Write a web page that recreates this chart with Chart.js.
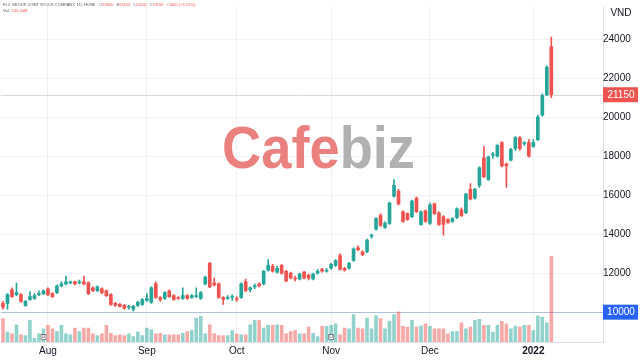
<!DOCTYPE html>
<html>
<head>
<meta charset="utf-8">
<script src="https://cdn.jsdelivr.net/npm/chart.js@4.4.1/dist/chart.umd.min.js"></script>
<style>
  html, body { margin: 0; padding: 0; background: #fff; }
  canvas { display: block; }
</style>
</head>
<body>
<canvas id="chart" width="640" height="361"></canvas>
<script>
// daily candles, FLC (HOSE), late Jul 2021 -> early Jan 2022
const open = [
  10450, 10450, 11150, 10900, 10900, 10350, 10650, 10700, 10900, 10950,
  11200, 10950, 11000, 11350, 11450, 11500, 11550, 11500, 11550, 11500,
  11250, 11100, 11200, 11100, 10900, 10450, 10400, 10350, 10250, 10150,
  10350, 10400, 10600, 10500, 11450, 10750, 10700, 11100, 10850, 10750,
  10700, 10850, 10750, 10800, 10700, 11450, 12500, 11500, 11450, 10750,
  10700, 10750, 10700, 10750, 11550, 11150, 11300, 11450, 11450, 12150,
  12350, 12050, 12400, 12100, 12000, 11750, 11700, 12050, 11900, 11700,
  12000, 12200, 12100, 12250, 12400, 12900, 12250, 12250, 12650, 13300,
  13100, 13100, 13900, 14250, 14950, 14350, 14550, 15950, 16200, 15150,
  15050, 14900, 15850, 14500, 15200, 14550, 15550, 15100, 14900, 14750,
  14650, 14850, 15250, 15100, 16300, 15850, 16500, 17900, 16800, 18050,
  18000, 18700, 17600, 17800, 18400, 18950, 18650, 18700, 18500, 18850,
  20100, 21150, 23600
];
const close = [
  10250, 10900, 10800, 11000, 10550, 10550, 10800, 10850, 10950, 11100,
  10900, 10800, 11350, 11450, 11550, 11550, 11450, 11550, 11450, 10950,
  11100, 11300, 11000, 10850, 10400, 10350, 10300, 10200, 10300, 10300,
  10500, 10650, 10700, 11250, 10750, 10650, 11000, 10800, 10650, 10700,
  10850, 10700, 10850, 10850, 11000, 11800, 11300, 11400, 10750, 10650,
  10750, 10800, 10650, 11450, 11100, 11250, 11350, 11350, 12100, 12400,
  12100, 12250, 12000, 11600, 11750, 11700, 11950, 11750, 11750, 11950,
  12100, 12100, 12150, 12450, 12650, 12200, 12150, 12500, 13250, 13200,
  12950, 13700, 13950, 14800, 14450, 14550, 15600, 16500, 15550, 14650,
  14750, 15700, 15150, 15150, 14650, 15500, 15050, 14500, 14500, 14600,
  14800, 15300, 14950, 16050, 15800, 16300, 17400, 16950, 17950, 18100,
  18550, 17500, 17500, 18350, 18950, 18400, 18700, 18000, 18700, 20000,
  21100, 22550, 21150
];
const high = [
  10550, 10950, 11250, 11500, 10950, 10600, 11050, 10950, 11100, 11150,
  11250, 11000, 11400, 11550, 11850, 11600, 11600, 11650, 11850, 11550,
  11300, 11350, 11250, 11150, 10950, 10500, 10450, 10400, 10350, 10350,
  10550, 10700, 10950, 11300, 11550, 10800, 11050, 11150, 10900, 10800,
  11250, 10900, 10900, 11250, 11050, 11850, 12550, 11750, 11500, 10800,
  10850, 10900, 10800, 11500, 11700, 11300, 11450, 11500, 12150, 12700,
  12450, 12350, 12450, 12150, 12050, 11850, 12000, 12100, 11950, 12000,
  12200, 12250, 12250, 12500, 12700, 13000, 12300, 12550, 13300, 13400,
  13150, 13750, 14000, 14850, 15050, 14650, 15650, 16800, 16300, 15200,
  15100, 15750, 15900, 15200, 15250, 15600, 15600, 15150, 14950, 14800,
  14850, 15350, 15350, 16100, 16600, 16350, 17450, 18500, 18000, 18200,
  18600, 18750, 17650, 18400, 19000, 19000, 18750, 18850, 18850, 20100,
  21200, 22650, 24100
];
const low = [
  10150, 10150, 10750, 10850, 10500, 10300, 10600, 10650, 10850, 10900,
  10850, 10750, 10950, 11300, 11400, 11450, 11400, 11450, 11400, 10900,
  11050, 11050, 10950, 10800, 10350, 10300, 10250, 10150, 10150, 10050,
  10300, 10350, 10550, 10450, 10700, 10550, 10650, 10750, 10600, 10650,
  10650, 10650, 10700, 10750, 10650, 11400, 11250, 11350, 10700, 10400,
  10650, 10600, 10550, 10700, 11050, 11050, 11200, 11300, 11400, 12100,
  12050, 12000, 11950, 11550, 11700, 11600, 11650, 11700, 11650, 11650,
  11950, 12050, 12050, 12200, 12350, 12150, 12100, 12200, 12600, 13150,
  12900, 13050, 13800, 14200, 14400, 14300, 14500, 15900, 15500, 14600,
  14700, 14850, 15100, 14450, 14600, 14500, 15000, 14450, 13950, 14550,
  14600, 14800, 14900, 15050, 15750, 15800, 16400, 16900, 16750, 17900,
  17950, 17450, 16400, 17750, 18300, 18300, 18550, 17950, 18450, 18800,
  20050, 21100, 21000
];
// volume, millions of shares
const volume = [
  34.5, 14.8, 12.3, 25.6, 10.8, 9.9, 32, 5.9, 12.3, 19.7,
  24.7, 19.7, 15.8, 24.7, 12.3, 10.8, 20.7, 15.8, 20.7, 20.7,
  12.3, 9.9, 12.3, 24.7, 13.3, 9.9, 10.8, 9.9, 12.3, 8.4,
  14.8, 9.9, 20.7, 18.2, 12.3, 13.3, 10.8, 10.8, 10.8, 10.8,
  13.3, 15.8, 17.3, 35.5, 38, 12.3, 25.6, 12.3, 9.9, 9.9,
  9.9, 17.3, 12.3, 10.8, 10.8, 25.6, 32, 32, 20.7, 24.7,
  24.7, 25.6, 24.7, 12.3, 15.8, 17.3, 12.3, 12.3, 22.2, 13.3,
  8.4, 23.2, 23.2, 24.7, 27.1, 10.8, 20.7, 19.7, 40.4, 20.7,
  19.7, 35.5, 19.7, 38.5, 34.5, 19.7, 31, 40.4, 44.4, 23.2,
  22.2, 32, 22.2, 23.7, 27.1, 23.2, 19.7, 19.7, 19.7, 12.3,
  15.8, 15.8, 28.6, 19.7, 22.2, 32, 33.5, 24.7, 24.7, 14.8,
  24.7, 30.6, 27.1, 19.7, 23.7, 22.2, 24.7, 24.7, 17.3, 38.5,
  37, 28.6, 125.44
];

// x axis: 134 daily slots, month names at the first session of each month
const slotCount = 134;
const monthNames = ['Aug', 'Sep', 'Oct', 'Nov', 'Dec', '2022'];
const monthIdx = [10, 32, 52, 73, 95, 118];
const priceTicks = [12000, 14000, 16000, 18000, 20000, 22000, 24000];
const markedLevel = 10000;
const eventIdx = [9, 73];

const UP = '#26a69a', DOWN = '#ef5350';
const UP_VOL = 'rgba(38,166,154,0.5)', DOWN_VOL = 'rgba(239,83,80,0.5)';
const FONT = "'Liberation Sans', Arial, sans-serif";

const xLabels = [];
for (let i = 0; i < slotCount; i++) xLabels.push('');
monthIdx.forEach((idx, k) => { xLabels[idx] = monthNames[k]; });

const isUp = open.map((o, i) => close[i] >= o);
const candleColor = isUp.map(u => u ? UP : DOWN);
const volColor = isUp.map(u => u ? UP_VOL : DOWN_VOL);
const lastClose = close[close.length - 1];

const overlay = {
  id: 'overlay',
  beforeDatasetsDraw(chart) {
    const {ctx, chartArea: a, scales: {x, y}} = chart;
    ctx.save();
    // watermark
    ctx.font = 'bold 60px ' + FONT;
    ctx.textBaseline = 'alphabetic';
    const w1 = ctx.measureText('Cafe').width, w2 = ctx.measureText('biz').width;
    const sx = 193 / (w1 + w2);
    ctx.translate(222, 168);
    ctx.scale(sx, 1);
    ctx.globalAlpha = 0.85;
    ctx.fillStyle = '#e86b68';
    ctx.fillText('Cafe', 0, 0);
    ctx.fillStyle = '#a3a3a3';
    ctx.fillText('biz', w1, 0);
    ctx.restore();

    ctx.save();
    ctx.lineWidth = 1;
    const yl = Math.round(y.getPixelForValue(lastClose)) + 0.5;
    ctx.strokeStyle = '#dcd6d8';
    ctx.beginPath(); ctx.moveTo(a.left, yl); ctx.lineTo(a.right, yl); ctx.stroke();
    const ym = Math.round(y.getPixelForValue(markedLevel)) + 0.5;
    ctx.strokeStyle = '#b3c0da';
    ctx.beginPath(); ctx.moveTo(a.left, ym); ctx.lineTo(a.right, ym); ctx.stroke();
    ctx.restore();
  },
  afterDraw(chart) {
    const {ctx, chartArea: a, scales: {x, y}} = chart;
    ctx.save();
    ctx.textAlign = 'center';
    ctx.textBaseline = 'middle';
    ctx.font = '10px ' + FONT;
    const boxes = [[lastClose, DOWN, String(lastClose)], [markedLevel, '#2962ff', String(markedLevel)]];
    boxes.forEach(([v, col, txt]) => {
      const py = y.getPixelForValue(v);
      ctx.fillStyle = col;
      ctx.fillRect(a.right, py - 7.5, 35, 15);
      ctx.fillStyle = '#fff';
      ctx.fillText(txt, a.right + 18, py + 0.5);
    });
    ctx.fillStyle = '#131722';
    ctx.fillText('VND', a.right + 18, 13);

    // event markers on the volume pane
    ctx.font = '5px ' + FONT;
    eventIdx.forEach(i => {
      const px = x.getPixelForValue(i);
      ctx.fillStyle = '#fff';
      ctx.strokeStyle = '#8a8d96';
      ctx.lineWidth = 1;
      ctx.fillRect(px - 3, a.bottom - 8, 6, 6);
      ctx.strokeRect(px - 3 + 0.5, a.bottom - 8 + 0.5, 5, 5);
      ctx.fillStyle = '#555';
      ctx.fillText('D', px, a.bottom - 5);
    });

    // legend header
    ctx.textAlign = 'left';
    ctx.textBaseline = 'middle';
    ctx.font = '4px ' + FONT;
    ctx.fillStyle = '#555';
    let hx = 3;
    const name = 'FLC GROUP JOINT STOCK COMPANY, 1D, HOSE';
    ctx.fillText(name, hx, 5);
    hx += ctx.measureText(name).width + 4;
    const vals = ['O23600', 'H24100', 'L21000', 'C21150', '\u22121400 (\u22126.21%)'];
    vals.forEach(t => {
      ctx.fillStyle = '#555';
      ctx.fillText(t[0], hx, 5);
      ctx.fillStyle = DOWN;
      if (t[0] === '\u2212') { ctx.fillText(t, hx, 5); }
      else ctx.fillText(t.slice(1), hx + ctx.measureText(t[0]).width, 5);
      hx += ctx.measureText(t).width + 3;
    });
    ctx.fillStyle = '#555';
    ctx.fillText('Vol', 3, 11);
    ctx.fillStyle = DOWN;
    ctx.fillText('125.44M', 3 + ctx.measureText('Vol ').width + 2, 11);
    ctx.restore();
  }
};

new Chart(document.getElementById('chart'), {
  type: 'bar',
  data: {
    labels: xLabels,
    datasets: [
      {
        label: 'Body',
        data: open.map((o, i) => [o, close[i]]),
        backgroundColor: candleColor,
        barThickness: 3,
        minBarLength: 1,
        grouped: false,
        order: 1
      },
      {
        label: 'Wick',
        data: low.map((l, i) => [l, high[i]]),
        backgroundColor: candleColor,
        barThickness: 1,
        grouped: false,
        order: 2
      },
      {
        label: 'Volume',
        data: volume,
        yAxisID: 'yv',
        backgroundColor: volColor,
        categoryPercentage: 1,
        barPercentage: 0.8,
        grouped: false,
        order: 3
      }
    ]
  },
  options: {
    responsive: false,
    animation: false,
    layout: {padding: 0},
    plugins: {legend: {display: false}, tooltip: {enabled: false}},
    scales: {
      x: {
        offset: true,
        grid: {
          offset: false,
          drawTicks: false,
          color: ctx => xLabels[ctx.index] ? '#eef0f5' : 'rgba(0,0,0,0)'
        },
        border: {color: '#e0e3eb'},
        ticks: {
          autoSkip: false,
          maxRotation: 0,
          padding: 3,
          color: '#131722',
          font: ctx => ({family: FONT, size: 10, weight: xLabels[ctx.index] === '2022' ? 'bold' : 'normal'}),
          callback: (v, i) => xLabels[i]
        },
        afterFit: s => { s.height = 19; }
      },
      y: {
        position: 'right',
        min: 8470,
        max: 25700,
        afterBuildTicks: s => { s.ticks = priceTicks.map(v => ({value: v})); },
        grid: {color: '#f0f3fa', drawTicks: false},
        border: {color: '#e0e3eb'},
        ticks: {
          crossAlign: 'center',
          padding: 0,
          color: '#131722',
          font: {family: FONT, size: 10},
          callback: v => String(v)
        },
        afterFit: s => { s.width = 37; }
      },
      yv: {display: false, min: 0, max: 490}
    }
  },
  plugins: [overlay]
});
</script>
</body>
</html>
